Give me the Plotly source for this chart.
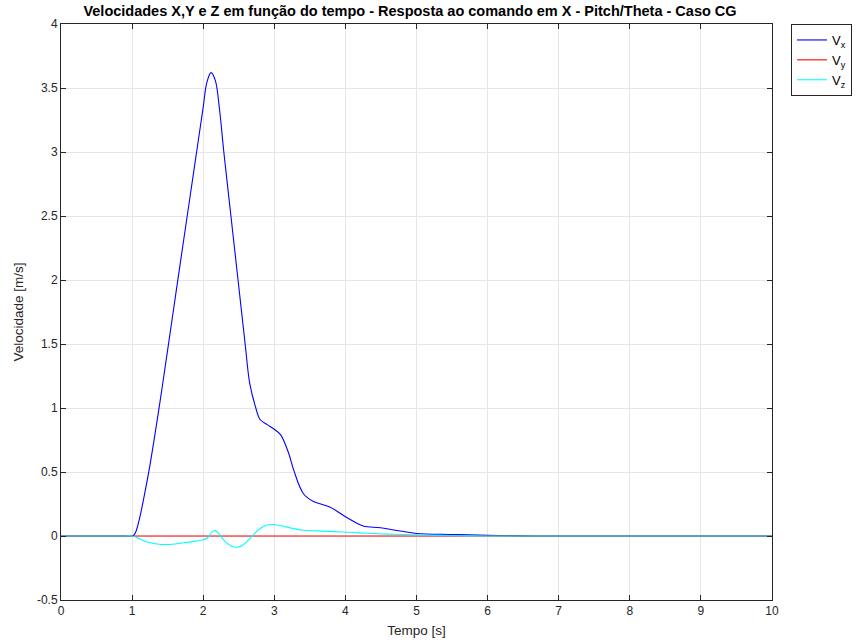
import plotly.graph_objects as go

# Time samples and velocity values (m/s)
t_vx = [0.0, 0.5, 0.9, 0.97, 1.0, 1.02, 1.05, 1.11, 1.18, 1.25, 1.39, 1.52, 1.635, 1.82, 1.91,
        2.0, 2.05, 2.11, 2.17, 2.23, 2.29, 2.39, 2.49, 2.59, 2.655, 2.735,
        2.80, 2.90, 3.01, 3.09, 3.2, 3.27, 3.41, 3.55, 3.78, 4.02, 4.25, 4.49,
        4.77, 5.0, 5.5, 6.0, 6.5, 7.0, 8.0, 9.0, 10.0]
vx = [0.0, 0.0, 0.0, 0.0, 0.0, 0.005, 0.03, 0.15, 0.34, 0.55, 1.04, 1.53, 1.97, 2.67, 3.01,
      3.35, 3.54, 3.62, 3.56, 3.33, 3.0, 2.5, 2.0, 1.5, 1.19, 1.01,
      0.91, 0.87, 0.83, 0.79, 0.65, 0.52, 0.33, 0.27, 0.227, 0.144, 0.078, 0.065,
      0.039, 0.02, 0.012, 0.005, 0.001, 0.0, 0.0, 0.0, 0.0]

t_vy = [0.0, 10.0]
vy = [0.0, 0.0]

t_vz = [0.0, 0.5, 0.9, 1.0, 1.1, 1.2, 1.35, 1.5, 1.7, 1.9, 2.0, 2.07, 2.12, 2.17, 2.21,
        2.25, 2.32, 2.4, 2.48, 2.56, 2.63, 2.69, 2.77, 2.87, 2.97, 3.1, 3.25, 3.4,
        3.6, 3.83, 4.1, 4.3, 4.6, 4.8, 5.2, 5.6, 6.0, 8.0, 10.0]
vz = [0.0, 0.0, 0.0, 0.0, -0.02, -0.045, -0.062, -0.066, -0.055, -0.04, -0.03, -0.01,
      0.03, 0.042, 0.025, -0.005, -0.05, -0.08, -0.088, -0.07, -0.035, 0.0, 0.045,
      0.08, 0.09, 0.08, 0.06, 0.045, 0.04, 0.034, 0.027, 0.021, 0.015, 0.012,
      0.006, 0.002, 0.0, 0.0, 0.0]

x_ticks = list(range(0, 11))
y_ticks = [-0.5, 0, 0.5, 1, 1.5, 2, 2.5, 3, 3.5, 4]
y_tick_text = ["-0.5", "0", "0.5", "1", "1.5", "2", "2.5", "3", "3.5", "4"]

FONT = "Liberation Sans, Arial, sans-serif"
AX = "#262626"

fig = go.Figure()
fig.add_trace(go.Scatter(x=t_vx, y=vx, mode="lines", name="V<sub>x</sub>",
                         line=dict(color="#0000ff", width=1.1, shape="spline", smoothing=1.0)))
fig.add_trace(go.Scatter(x=t_vy, y=vy, mode="lines", name="V<sub>y</sub>",
                         line=dict(color="#ff0000", width=1.1)))
fig.add_trace(go.Scatter(x=t_vz, y=vz, mode="lines", name="V<sub>z</sub>",
                         line=dict(color="#00ffff", width=1.1, shape="spline", smoothing=1.0)))

axis_common = dict(
    showgrid=True, gridcolor="#e6e6e6", gridwidth=1,
    showline=True, linecolor=AX, linewidth=1, mirror="ticks",
    ticks="inside", ticklen=5, tickcolor=AX, tickwidth=1,
    zeroline=False, tickfont=dict(family=FONT, size=12, color=AX),
)

fig.update_layout(
    width=856, height=644,
    margin=dict(l=61, r=84, t=24, b=44, autoexpand=False),
    paper_bgcolor="white", plot_bgcolor="white",
    title=dict(text="<b>Velocidades X,Y e Z em função do tempo - Resposta ao comando em X - Pitch/Theta - Caso CG</b>",
               x=0.479, xanchor="center", y=0.983, yanchor="middle",
               font=dict(family=FONT, size=14.5, color="black")),
    xaxis=dict(range=[0, 10], tickvals=x_ticks,
               title=dict(text="Tempo [s]", font=dict(family=FONT, size=13.5, color=AX), standoff=8),
               **axis_common),
    yaxis=dict(range=[-0.5, 4], tickvals=y_ticks, ticktext=y_tick_text,
               title=dict(text="Velocidade [m/s]", font=dict(family=FONT, size=13.5, color=AX), standoff=10),
               **axis_common),
    legend=dict(xref="container", yref="container", x=791 / 856, y=1 - 24 / 644,
                xanchor="left", yanchor="top",
                bordercolor=AX, borderwidth=1, bgcolor="white",
                font=dict(family=FONT, size=13, color="black"),
                tracegroupgap=0, itemwidth=30),
    showlegend=True,
)

fig.write_html("out.html")
